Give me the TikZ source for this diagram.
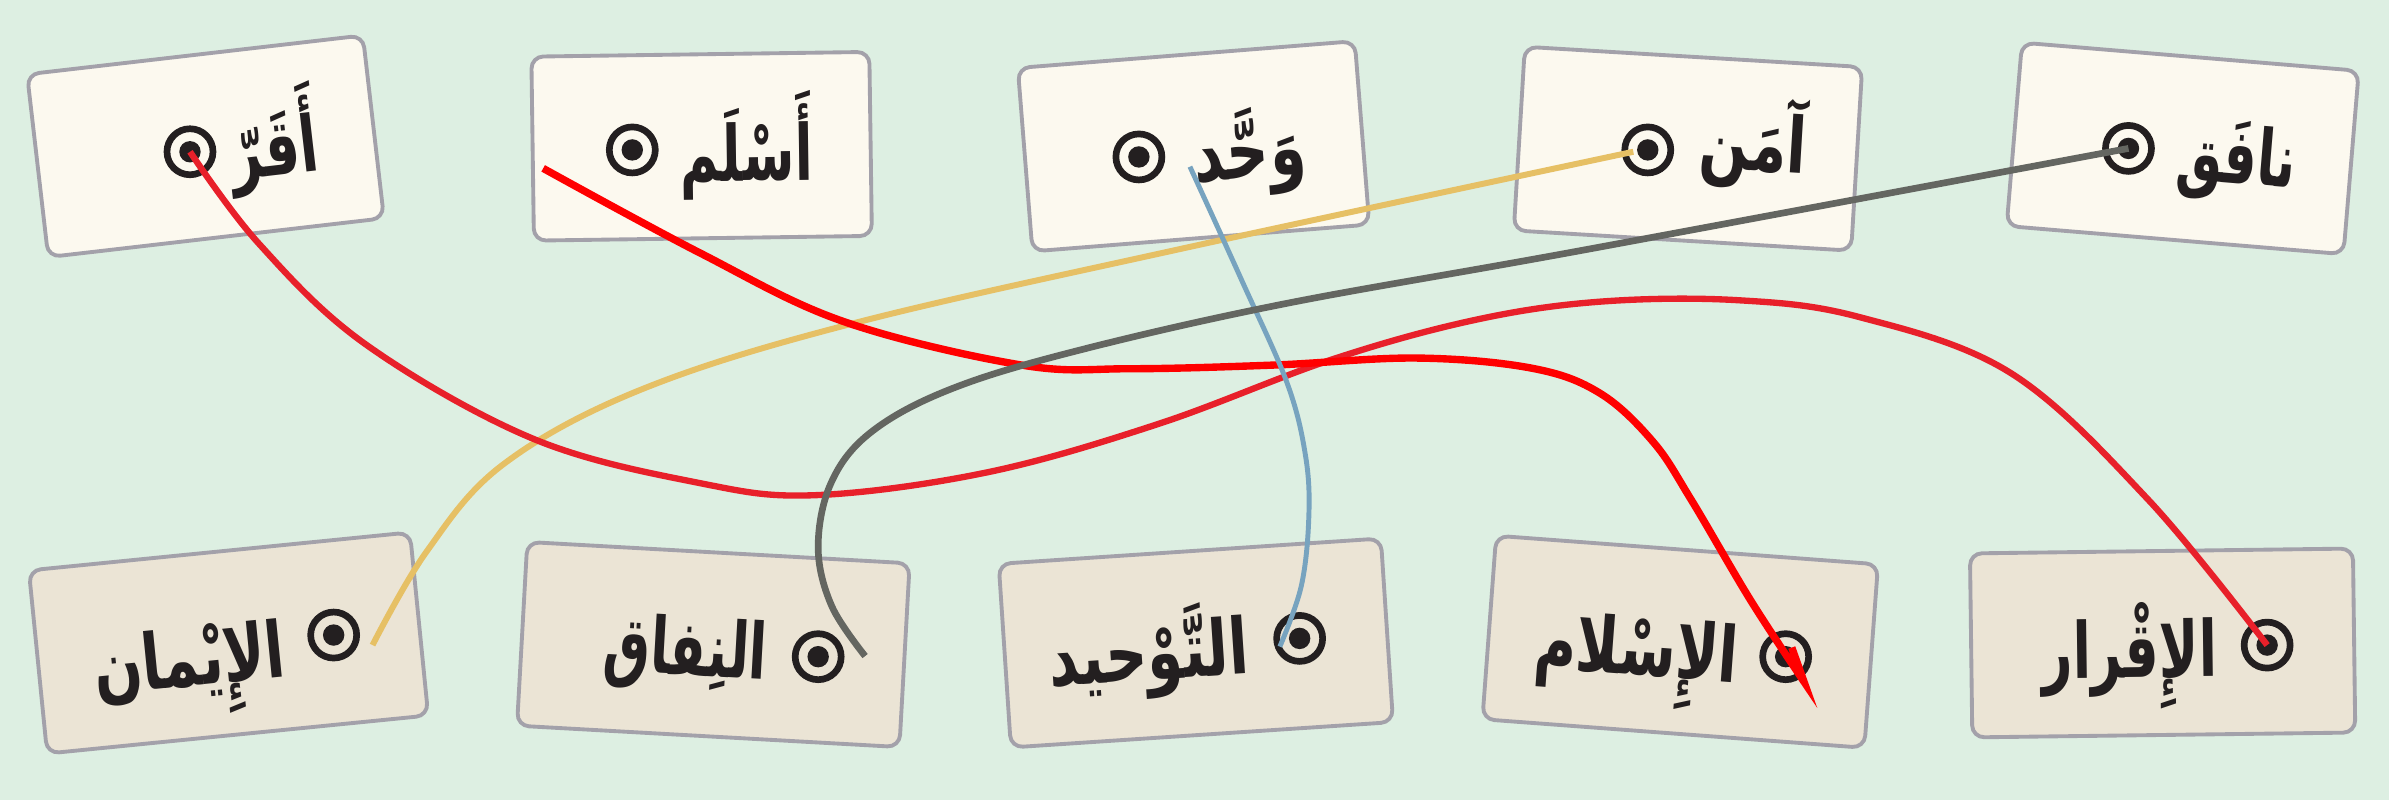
\documentclass[tikz,border=0pt]{standalone}
\usepackage{fontspec}
\newfontfamily\arabicfont[Script=Arabic]{DejaVu Sans}
\TeXXeTstate=1
\definecolor{bg}{HTML}{DDEFE2}
\definecolor{topfill}{HTML}{FCF9EF}
\definecolor{botfill}{HTML}{EBE4D5}
\definecolor{cardline}{HTML}{A3A1AA}
\definecolor{ink}{HTML}{231F20}
\definecolor{redA}{HTML}{E8202A}
\definecolor{redB}{HTML}{FF0000}
\definecolor{yel}{HTML}{E6C065}
\definecolor{gry}{HTML}{646661}
\definecolor{blu}{HTML}{77A3BF}
\tikzset{
  topcard/.style={draw=cardline, line width=1.1pt, fill=topfill, rounded corners=1.2mm,
    minimum width=33.8mm, minimum height=18.4mm, inner sep=0pt},
  botcard/.style={topcard, fill=botfill, minimum width=38.3mm},
  target/.style={circle, draw=ink, line width=1.9pt, minimum size=4.6mm, inner sep=0pt,
    path picture={\fill[ink] (path picture bounding box.center) circle (1.07mm);}},
  word/.style={font=\arabicfont\bfseries\fontsize{22}{26}\selectfont, text=ink, inner sep=0pt, anchor=base east},
  link/.style={line width=1.8pt},
}
\begin{document}
\begin{tikzpicture}[x=0.15236mm, y=-0.15236mm]
\fill[bg] (0,0) rectangle (1568,525);
\useasboundingbox (0,0) rectangle (1568,525);
% top cards
\node[topcard, rotate=6.6]   (c1) at (134.9,96) {};
\node[topcard, rotate=0.8]   (c2) at (460.5,96) {};
\node[topcard, rotate=4.55]  (c3) at (783.4,96) {};
\node[topcard, rotate=-3.44] (c4) at (1107.9,97.6) {};
\node[topcard, rotate=-4.78] (c5) at (1432.6,97.4) {};
% bottom cards
\node[botcard, rotate=5.7]   (d1) at (150,422) {};
\node[botcard, rotate=-3.2]  (d2) at (468.2,423) {};
\node[botcard, rotate=3.8]   (d3) at (784.9,422) {};
\node[botcard, rotate=-4.28] (d4) at (1102.8,421.2) {};
\node[botcard, rotate=0.73]  (d5) at (1419.4,422) {};
% top words
\node[word, rotate=6.6, xscale=0.70]   (w1) at (211,111.6) {\beginR أَقَرّ\endR};
\node[word, rotate=0.8, xscale=0.68]   (w2) at (534,118)   {\beginR أَسْلَم\endR};
\node[word, rotate=4.55, xscale=0.76]  (w3) at (858.5,114) {\beginR وَحَّد\endR};
\node[word, rotate=-3.44, xscale=0.74] (w4) at (1185,114)  {\beginR آمَن\endR};
\node[word, rotate=-4.78, xscale=0.67] (w5) at (1506,123.5) {\beginR نافَق\endR};
% bottom words
\node[word, rotate=5.7, xscale=0.74]   (v1) at (189,444)  {\beginR الإِيْمان\endR};
\node[word, rotate=-3.2, xscale=0.68]  (v2) at (503,446)  {\beginR النِفاق\endR};
\node[word, rotate=3.8, xscale=0.75]   (v3) at (821,442)  {\beginR التَّوْحيد\endR};
\node[word, rotate=-4.28, xscale=0.74] (v4) at (1140,448) {\beginR الإِسْلام\endR};
\node[word, rotate=0.73, xscale=0.69]  (v5) at (1456,444) {\beginR الإِقْرار\endR};
% targets
\node[target] (t1) at (124.7,99.6) {};
\node[target] (t2) at (415,98.4) {};
\node[target] (t3) at (747.5,103) {};
\node[target] (t4) at (1081.5,98.4) {};
\node[target] (t5) at (1397,97.4) {};
\node[target] (b1) at (219,416.8) {};
\node[target] (b2) at (537,431) {};
\node[target] (b3) at (853,419) {};
\node[target] (b4) at (1172,431) {};
\node[target] (b5) at (1488,423.4) {};
% free ends
\coordinate (sRedB) at (356.5,110.5);
\coordinate (sBlue) at (781,109.4);
\coordinate (sYel)  at (1072,99.6);
\coordinate (eYel)  at (244.5,423.4);
\coordinate (eGry)  at (567.8,430.6);
\coordinate (eBlu)  at (840,424.4);
\coordinate (hook)  at (1184,447.4);
\coordinate (eRedB) at (1176,425);
% connectors
\draw[link, yel, line width=1.7pt] plot[smooth, tension=0.6] coordinates {(sYel) (772,164) (557,213) (420,256) (330,305) (280,362) (eYel)};
\draw[link, redA] plot[smooth, tension=0.6] coordinates {(t1.center) (170,160) (240,226) (350,288) (459,317) (535,325) (648,310) (761,278) (874,236) (968,210) (1050,198) (1140,197) (1220,208) (1320,245) (1410,328) (b5.center)};
\draw[link, redB, line width=2.1pt] plot[smooth, tension=0.6] coordinates {(sRedB) (459.4,166) (553.6,211) (670.5,239.6) (742,242) (836,239.6) (930,235) (1005.6,241.7) (1050,258) (1085,290) (1110,328) (1149,394) (hook)} -- (eRedB);
\draw[link, blu, line width=1.4pt] plot[smooth, tension=0.6] coordinates {(sBlue) (815,184) (845,252) (857,300) (859,340) (854,385) (eBlu)};
\draw[link, gry, line width=1.9pt] plot[smooth, tension=0.6] coordinates {(t5.center) (1040,164) (840,200) (700,232) (620,257) (570,285) (545,318) (537,360) (546,398) (eGry)};
\end{tikzpicture}
\end{document}
